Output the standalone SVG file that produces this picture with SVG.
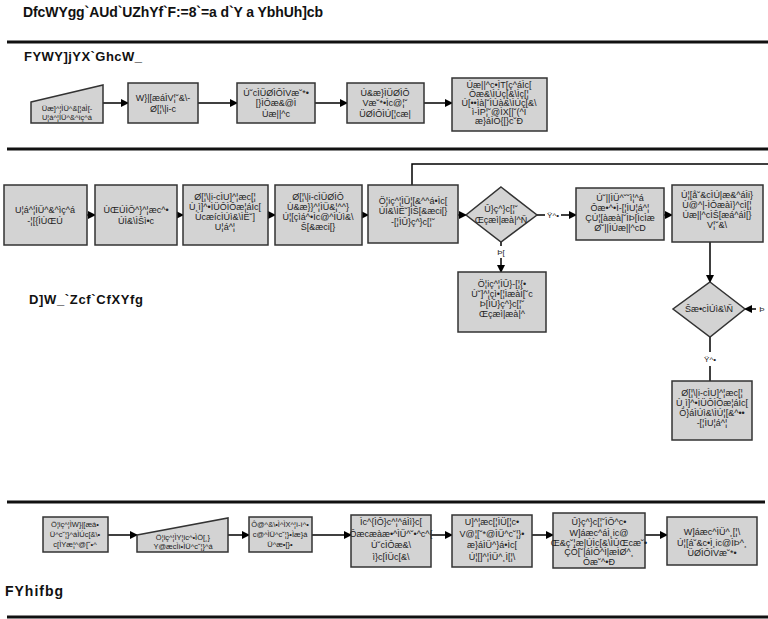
<svg xmlns="http://www.w3.org/2000/svg" width="768" height="619" viewBox="0 0 768 619">
<defs>
<marker id="ah" markerWidth="8" markerHeight="8" refX="7" refY="4" orient="auto" markerUnits="userSpaceOnUse">
<path d="M0,0 L8,4 L0,8 Z" fill="#000"/>
</marker>
<style>
.n{fill:#d3d3d3;stroke:#333;stroke-width:1.5}
.t{font-family:"Liberation Sans",Arial,sans-serif;font-size:9px;fill:#222;text-anchor:middle}
.s{font-size:7.5px}
.h{font-family:"Liberation Sans",Arial,sans-serif;font-weight:bold;fill:#111}
.sep{stroke:#111;stroke-width:3}
.c{stroke:#000;stroke-width:1.5;fill:none}
.a{marker-end:url(#ah)}
.l{font-family:"Liberation Sans",Arial,sans-serif;font-size:8px;fill:#222;text-anchor:middle}
</style>
</defs>
<rect width="768" height="619" fill="#fff"/>
<text class="h" x="23" y="17" font-size="14" textLength="300" lengthAdjust="spacing">DfcWYgg`AUd`UZhYf`F:=8`=a d`Y a YbhUh]cb</text>
<line class="sep" x1="7" y1="42" x2="768" y2="42"/>
<text class="h" x="24" y="61" font-size="13" textLength="118" lengthAdjust="spacing">FYWY]jYX`GhcW_</text>
<line class="sep" x1="7" y1="149" x2="768" y2="149"/>
<text class="h" x="29" y="304" font-size="13" textLength="114" lengthAdjust="spacing">D]W_`Zcf`CfXYfg</text>
<line class="sep" x1="7" y1="502" x2="765" y2="502"/>
<text class="h" x="5" y="596" font-size="14" textLength="58" lengthAdjust="spacing">FYhifbg</text>
<line class="sep" x1="7" y1="617" x2="768" y2="617"/>

<g id="connectors">
<line class="c a" x1="103" y1="103" x2="128" y2="103"/>
<line class="c a" x1="198" y1="103" x2="237" y2="103"/>
<line class="c a" x1="315" y1="103" x2="347" y2="103"/>
<line class="c a" x1="424" y1="103" x2="452" y2="103"/>
<line class="c a" x1="87" y1="215" x2="95" y2="215"/>
<line class="c a" x1="177" y1="215" x2="183" y2="215"/>
<line class="c a" x1="268" y1="215" x2="275" y2="215"/>
<line class="c a" x1="362" y1="215" x2="368" y2="215"/>
<line class="c a" x1="458" y1="215" x2="466" y2="215"/>
<polyline class="c" points="412,185 412,164 768,164"/>
<line class="c" x1="537" y1="215" x2="545" y2="215"/>
<text class="l" x="553" y="218">Ÿ^•</text>
<line class="c a" x1="561" y1="215" x2="576" y2="215"/>
<line class="c a" x1="664" y1="215" x2="672" y2="215"/>
<line class="c" x1="501" y1="242" x2="501" y2="246"/>
<text class="l" x="501" y="255">Þ[</text>
<line class="c a" x1="501" y1="258" x2="501" y2="272"/>
<line class="c a" x1="710" y1="242" x2="710" y2="282"/>
<line class="c a" x1="756" y1="309" x2="745" y2="309"/>
<text class="l" x="762" y="312">Þ</text>
<line class="c" x1="710" y1="337" x2="710" y2="352"/>
<text class="l" x="710" y="362">Ÿ^•</text>
<line class="c" x1="710" y1="366" x2="710" y2="381"/>
<line class="c a" x1="108" y1="535" x2="137" y2="535"/>
<line class="c a" x1="228" y1="535" x2="249" y2="535"/>
<line class="c a" x1="312" y1="535" x2="351" y2="535"/>
<line class="c a" x1="431" y1="535" x2="452" y2="535"/>
<line class="c a" x1="532" y1="535" x2="553" y2="535"/>
<line class="c a" x1="645" y1="535" x2="667" y2="535"/>
</g>

<g id="n1"><polygon class="n" points="31,102 103,85 103,123 31,123"/>
<text class="t s" x="67" y="111">Üæ]^¦ÌÜ^&amp;[¦áÌ[-</text><text class="t s" x="67" y="120">U¦á^¦ÌÜ^&amp;^ìç^á</text></g>
<g id="n2"><rect class="n" x="128" y="83" width="70" height="40"/>
<text class="t" x="163" y="101">W}|[æáÌV¦˘&amp;\-</text><text class="t" x="163" y="112">Ø[¦\|i-c</text></g>
<g id="n3"><rect class="n" x="237" y="83" width="78" height="40"/>
<text class="t" x="276" y="96">Ú˘cÌÜØÌÔÌVæ˘*•</text><text class="t" x="276" y="106">[}ÌÔæ&amp;@Ì</text><text class="t" x="276" y="117">Úæ||^c</text></g>
<g id="n4"><rect class="n" x="347" y="83" width="77" height="40"/>
<text class="t" x="385" y="96">Ú&amp;æ}ÌÜØÌÔ</text><text class="t" x="385" y="106">Væ˘*•Ìc@¦˘</text><text class="t" x="385" y="117">ÜØÌÔÌÚ[¦cæ|</text></g>
<g id="n5"><rect class="n" x="452" y="78" width="95" height="53"/>
<text class="t" x="499" y="88">Úæ||^c•ÌT[ç^áÌc[</text><text class="t" x="499" y="97">Ôæ&amp;\ÌÚç[&amp;\Ìç[¦</text><text class="t" x="499" y="106">Ú[••ìà|˘ÌÚà&amp;\ÌÚç[&amp;\</text><text class="t" x="499" y="115">ì-ÌP¦˘@ÌX[|˘(^Ì</text><text class="t" x="499" y="124">æ}áÌÔ{[}c˘Ð</text></g>

<g id="a"><rect class="n" x="4" y="185" width="83" height="60"/>
<text class="t" x="45" y="213">U¦á^¦ÌÜ^&amp;^ìç^á</text><text class="t" x="45" y="224">-¦[{ÌÙŒÚ</text></g>
<g id="b"><rect class="n" x="95" y="185" width="82" height="60"/>
<text class="t" x="136" y="213">ÙŒÚÌÕ^}^¦æc^•</text><text class="t" x="136" y="224">ÚÌ&amp;\ÌŠì•c</text></g>
<g id="c"><rect class="n" x="183" y="185" width="85" height="60"/>
<text class="t" x="225" y="200">Ø[¦\|i-cÌU]^¦æc[¦</text><text class="t" x="225" y="210">Ù¸ì]^•ÌÜÔÌÔæ¦áÌc[</text><text class="t" x="225" y="220">ÙcæícÌÚì&amp;\ÌË˘]</text><text class="t" x="225" y="230">U¦á^¦</text></g>
<g id="d"><rect class="n" x="275" y="185" width="87" height="60"/>
<text class="t" x="318" y="200">Ø[¦\|i-cÌÜØÌÔ</text><text class="t" x="318" y="210">Ù&amp;æ}}^¦ÌÜ&amp;¦^^}</text><text class="t" x="318" y="220">Ú¦[çìá^•Ìc@^ÌÚì&amp;\</text><text class="t" x="318" y="230">Š[&amp;æci[}</text></g>
<g id="e"><rect class="n" x="368" y="185" width="90" height="58"/>
<text class="t" x="413" y="204">Ö¦iç^¦ÌÜ¦[&amp;^^á•Ìc[</text><text class="t" x="413" y="214">ÚÌ&amp;\ÌË˘]ÌŠ[&amp;æci[}</text><text class="t" x="413" y="225">-[¦ÌÛ}ç^}c[¦˘</text></g>
<g id="d1"><polygon class="n" points="501,187 537,215 501,242 466,215"/>
<text class="t" x="501" y="212">Û}ç^}c[¦˘</text><text class="t" x="501" y="223">Œçæì|æà|^Ñ</text></g>
<g id="f"><rect class="n" x="576" y="188" width="88" height="52"/>
<text class="t" x="620" y="201">Ú˘||ÌÜ^˘˘ì¦^á</text><text class="t" x="620" y="211">Ôæ•^•Ì-[¦ÌU¦á^¦</text><text class="t" x="620" y="221">ÇÚ¦[àæà|˘ÌÞ[ÌcÌæ</text><text class="t" x="620" y="231">Ø˘||ÌÚæ||^cD</text></g>
<g id="g"><rect class="n" x="672" y="185" width="91" height="57"/>
<text class="t" x="717" y="198">Ú¦[å˘&amp;cÌÚ|æ&amp;^áÌi}</text><text class="t" x="717" y="208">Ù@^|-ÌÔæàì}^cÌ[¦</text><text class="t" x="717" y="218">Úæ||^cÌŠ[æá^áÌ[}</text><text class="t" x="717" y="228">V¦˘&amp;\</text></g>
<g id="h"><rect class="n" x="458" y="272" width="88" height="60"/>
<text class="t" x="502" y="287">Ö¦iç^¦ÌÛ}-[¦{•</text><text class="t" x="502" y="297">Ù˘]^¦çì•[¦ÌæàÌ[˘c</text><text class="t" x="502" y="307">Þ[ÌÛ}ç^}c[¦˘</text><text class="t" x="502" y="317">Œçæì|æà|^</text></g>
<g id="d2"><polygon class="n" points="710,282 745,309 710,337 673,309"/>
<text class="t" x="709" y="312">Šæ•cÌÚì&amp;\Ñ</text></g>
<g id="i"><rect class="n" x="672" y="381" width="80" height="59"/>
<text class="t" x="712" y="396">Ø[¦\|i-cÌU]^¦æc[¦</text><text class="t" x="712" y="406">Ù¸ì]^•ÌÜÔÌÔæ¦áÌc[</text><text class="t" x="712" y="416">Ô}áÌÚì&amp;\ÌÚ¦[&amp;^••</text><text class="t" x="712" y="426">-[¦ÌU¦á^¦</text></g>

<g id="r1"><rect class="n" x="43" y="517" width="65" height="35"/>
<text class="t s" x="75" y="527">Ö¦iç^¦ÌW}|[æá•</text><text class="t s" x="75" y="537">Ü^c˘¦}^áÌÚc[&amp;\•</text><text class="t s" x="75" y="547">c[ÌYæ¦^@[˘•^</text></g>
<g id="r2"><polygon class="n" points="137,535 228,518 228,552 137,552"/>
<text class="t s" x="183" y="540">Ö¦iç^¦ÌY¦ic^•ÌÖ[¸}</text><text class="t s" x="183" y="549">Y@æcÌì•ÌÜ^c˘¦}^á</text></g>
<g id="r3"><rect class="n" x="249" y="517" width="63" height="35"/>
<text class="t s" x="280" y="527">Ô@^&amp;\•Ì^ÌX^¦ì-ì^•</text><text class="t s" x="280" y="537">c@^ÌÜ^c˘¦}•Ìæ}á</text><text class="t s" x="280" y="547">Ü^æ•[}•</text></g>
<g id="r4"><rect class="n" x="351" y="515" width="80" height="52"/>
<text class="t" x="391" y="525">Ìc^{ÌÔ}c^¦^áÌì}c[</text><text class="t" x="391" y="537">Ôæcæàæ•^ÌÜ^˘•^c^{</text><text class="t" x="391" y="548">Ú˘cÌÔæ&amp;\</text><text class="t" x="391" y="560">ì}c[ÌÜc[&amp;\</text></g>
<g id="r5"><rect class="n" x="452" y="515" width="80" height="52"/>
<text class="t" x="492" y="525">U]^¦æc[¦ÌÜ[¦c•</text><text class="t" x="492" y="537">V@¦[˘*@ÌÜ^c˘¦}•</text><text class="t" x="492" y="548">æ}áÌÜ^}á•Ìc[</text><text class="t" x="492" y="560">Ú¦[]^¦ÌÜ^¸Ì[¦\</text></g>
<g id="r6"><rect class="n" x="553" y="513" width="92" height="55"/>
<text class="t" x="599" y="525">Û}ç^}c[¦˘ÌÕ^c•</text><text class="t" x="599" y="536">W]áæc^áÌ¸ic@</text><text class="t" x="599" y="546">Œ&amp;ç˘¦æ|ÚÌc[&amp;\ÌÛŒcæ˘•</text><text class="t" x="599" y="555">ÇÔ[˘|áÌÔ^Ì|æÌØ^¸</text><text class="t" x="599" y="565">Ôæ˘^•Ð</text></g>
<g id="r7"><rect class="n" x="667" y="517" width="90" height="48"/>
<text class="t" x="712" y="535">W]áæc^ÌÜ^¸[¦\</text><text class="t" x="712" y="546">Ú¦[á˘&amp;c•Ì¸ic@ÌÞ^¸</text><text class="t" x="712" y="556">ÜØÌÔÌVæ˘*•</text></g>
</svg>
